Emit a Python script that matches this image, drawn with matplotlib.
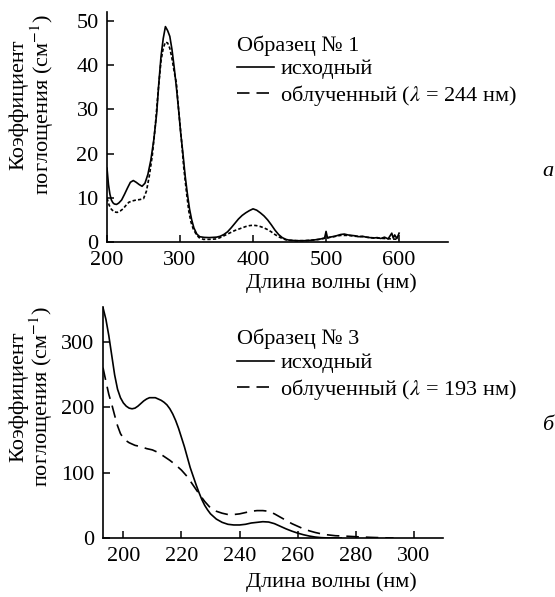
import matplotlib
matplotlib.use("Agg")
import matplotlib.pyplot as plt
from matplotlib.lines import Line2D

plt.rcParams['font.family'] = ['Liberation Serif', 'DejaVu Serif']
plt.rcParams['mathtext.fontset'] = 'stix'

# ---- Panel a: Sample No 1 ----
wl_a_src = [200, 202, 204, 206, 208, 210, 213, 216, 220, 224, 228, 232, 236, 240, 244, 248,
            252, 256, 260, 264, 268, 271, 274, 277, 280, 283, 286, 289, 292, 295, 298, 301,
            304, 307, 310, 313, 316, 319, 323, 327, 333, 340, 350, 355, 360, 365, 370, 375,
            380, 385, 390, 395, 400, 405, 410, 415, 420, 425, 430, 435, 440, 445, 450, 460,
            470, 480, 490, 498, 500, 502, 505, 512, 520, 525, 530, 535, 540, 545, 550, 555,
            560, 565, 570, 575, 580, 585, 590, 592, 594, 597, 600]
ab_a_src = [16.7, 13.0, 10.8, 9.5, 8.9, 8.6, 8.5, 8.8, 9.5, 10.8, 12.2, 13.5, 13.9, 13.5, 13.0, 12.6,
            13.3, 15.3, 18.5, 23.0, 29.0, 36.0, 42.0, 46.0, 48.7, 47.8, 46.5, 43.5, 39.5, 35.0, 30.0, 24.5,
            20.0, 15.0, 11.0, 7.5, 5.0, 3.2, 1.8, 1.2, 1.05, 1.0, 1.1, 1.3, 1.7, 2.3, 3.2, 4.2,
            5.2, 6.0, 6.6, 7.1, 7.5, 7.2, 6.6, 5.9, 5.0, 3.9, 2.7, 1.7, 1.0, 0.6, 0.4, 0.3,
            0.3, 0.4, 0.6, 0.9, 2.4, 0.9, 1.1, 1.3, 1.7, 1.8, 1.6, 1.5, 1.4, 1.2, 1.3, 1.1,
            1.0, 0.9, 1.0, 0.8, 1.1, 0.7, 2.0, 0.9, 1.6, 0.8, 2.0]
wl_a_irr = [200, 203, 206, 210, 214, 218, 222, 226, 230, 235, 240, 245, 250, 254, 258, 262,
            266, 270, 274, 277, 280, 283, 286, 289, 292, 295, 298, 302, 305, 309, 312, 315,
            318, 322, 326, 332, 340, 350, 355, 360, 365, 370, 375, 380, 385, 390, 395, 400,
            405, 410, 415, 420, 425, 430, 435, 440, 445, 450, 460, 470, 480, 490, 500, 510,
            520, 530, 540, 550, 560, 570, 580, 590, 600]
ab_a_irr = [9.9, 8.3, 7.4, 6.8, 6.7, 7.0, 7.5, 8.3, 9.0, 9.3, 9.5, 9.6, 9.8, 11.5, 15.0, 19.5,
            26.0, 34.0, 41.0, 43.8, 45.2, 45.0, 43.8, 41.5, 38.5, 36.0, 30.0, 23.0, 17.0, 11.0, 7.0, 4.5,
            3.0, 1.8, 1.0, 0.6, 0.6, 0.7, 1.0, 1.4, 1.8, 2.2, 2.6, 2.9, 3.2, 3.5, 3.7, 3.8,
            3.7, 3.5, 3.2, 2.8, 2.3, 1.7, 1.2, 0.8, 0.5, 0.4, 0.3, 0.3, 0.4, 0.6, 0.9, 1.2,
            1.5, 1.5, 1.3, 1.2, 1.0, 0.9, 0.8, 0.7, 0.6]

# ---- Panel b: Sample No 3 ----
wl_b_src = [193, 194, 195, 196, 197, 198, 199, 200, 201, 202, 203, 204, 205, 206, 207, 208,
            209, 210, 211, 212, 213, 214, 215, 216, 217, 218, 219, 220, 221, 222, 223, 224,
            225, 226, 227, 228, 229, 230, 232, 234, 236, 238, 240, 242, 244, 246, 248, 250,
            252, 254, 256, 258, 260, 262, 264, 266, 268, 270, 275]
ab_b_src = [353, 335, 310, 280, 250, 228, 215, 207, 202, 199, 198, 199, 202, 206, 210, 213,
            215, 215, 215, 213, 211, 208, 204, 198, 190, 180, 168, 154, 140, 124, 108, 95,
            82, 70, 59, 50, 43, 37, 29, 24, 21, 20, 20, 21, 23, 24, 25, 24.5,
            22, 18, 14, 10.5, 7.5, 5, 3, 1.5, 0.6, 0.2, 0]
wl_b_irr = [193, 194, 195, 196, 197, 198, 199, 200, 201, 202, 204, 206, 208, 210, 212, 214,
            216, 218, 220, 222, 224, 226, 228, 230, 232, 234, 236, 238, 240, 242, 244, 246,
            248, 250, 252, 254, 256, 258, 260, 262, 264, 266, 268, 270, 273, 276, 280, 285,
            290, 293]
ab_b_irr = [261, 240, 220, 205, 188, 172, 160, 153, 149, 146, 142, 140, 137, 135, 131, 125,
            119, 112, 104, 94, 81, 68, 56, 46, 41, 38, 36, 36, 37, 39, 41, 42,
            42, 41, 37, 32, 27, 22, 18, 14, 11, 8.5, 6.5, 5, 3.5, 3, 2, 1,
            0.3, 0]

FS = 16
fig = plt.figure(figsize=(5.55, 5.97), dpi=100)
ax1 = fig.add_axes([0.1928, 0.5946, 0.6144, 0.3853])
ax2 = fig.add_axes([0.1856, 0.0988, 0.6126, 0.3870])

lw = 1.2
long_dash = (7.5, 4.2)
for ax in (ax1, ax2):
    for s in ('top', 'right'):
        ax.spines[s].set_visible(False)
    ax.spines['left'].set_linewidth(1.2)
    ax.spines['bottom'].set_linewidth(1.2)
    ax.tick_params(direction='in', length=5, width=1.1, labelsize=FS)
    ax.tick_params(axis='y', pad=6)
    ax.tick_params(axis='x', pad=6.5)

# Panel a
ax1.plot(wl_a_src, ab_a_src, color='black', lw=lw)
ax1.plot(wl_a_irr, ab_a_irr, color='black', lw=lw, dashes=(2.0, 1.3))
ax1.set_xlim(200, 667)
ax1.set_ylim(0, 52)
ax1.set_xticks([200, 300, 400, 500, 600])
ax1.set_yticks([0, 10, 20, 30, 40, 50])
ax1.set_xlabel('Длина волны (нм)', fontsize=FS)
ax1.xaxis.set_label_coords(0.657, -0.135)
ax1.xaxis.label.set_va('top')
ax1.set_ylabel('Коэффициент\nпоглощения (см$^{-1}$)', fontsize=FS, linespacing=1.0)
ax1.yaxis.set_label_coords(-0.15, 0.596)

h_a = [Line2D([], [], color='black', lw=lw),
       Line2D([], [], color='black', lw=lw, dashes=long_dash)]
ax1.legend(h_a, ['исходный', 'облученный ($\\lambda$ = 244 нм)'],
           title='Образец № 1', title_fontsize=FS, fontsize=FS,
           loc='upper left', bbox_to_anchor=(0.381, 0.9), frameon=False,
           alignment='left', handlelength=1.65, handletextpad=0.3,
           borderpad=0, borderaxespad=0, labelspacing=0.15)

# Panel b
ax2.plot(wl_b_src, ab_b_src, color='black', lw=lw)
ax2.plot(wl_b_irr, ab_b_irr, color='black', lw=lw, dashes=long_dash)
ax2.set_xlim(193, 310)
ax2.set_ylim(0, 354)
ax2.set_xticks([200, 220, 240, 260, 280, 300])
ax2.set_yticks([0, 100, 200, 300])
ax2.set_xlabel('Длина волны (нм)', fontsize=FS)
ax2.xaxis.set_label_coords(0.671, -0.15)
ax2.xaxis.label.set_va('top')
ax2.set_ylabel('Коэффициент\nпоглощения (см$^{-1}$)', fontsize=FS, linespacing=1.0)
ax2.yaxis.set_label_coords(-0.14, 0.61)

h_b = [Line2D([], [], color='black', lw=lw),
       Line2D([], [], color='black', lw=lw, dashes=long_dash)]
ax2.legend(h_b, ['исходный', 'облученный ($\\lambda$ = 193 нм)'],
           title='Образец № 3', title_fontsize=FS, fontsize=FS,
           loc='upper left', bbox_to_anchor=(0.394, 0.905), frameon=False,
           alignment='left', handlelength=1.65, handletextpad=0.3,
           borderpad=0, borderaxespad=0, labelspacing=0.15)

fig.text(0.987, 0.712, 'а', fontsize=FS, style='italic', ha='center', va='center')
fig.text(0.987, 0.288, 'б', fontsize=FS, style='italic', ha='center', va='center')

fig.savefig('out.png', dpi=100)
